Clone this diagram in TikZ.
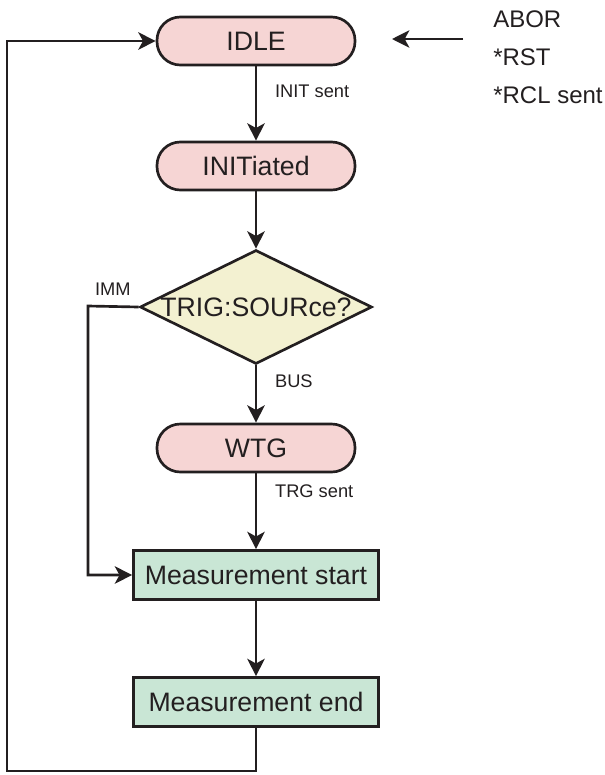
\documentclass[tikz,border=0pt]{standalone}
\usepackage{fontspec}
\setmainfont{Liberation Sans}
\usetikzlibrary{arrows.meta,shapes.geometric}
\definecolor{inkgray}{HTML}{231F20}
\definecolor{statepink}{HTML}{F6D5D4}
\definecolor{askyellow}{HTML}{F3F1D1}
\definecolor{stepgreen}{HTML}{C9E6D5}

\begin{document}
\begin{tikzpicture}[x=0.75pt,y=-0.75pt]
    \tikzset{every node/.style={text=inkgray}}
    \tikzset{state/.style = {draw=inkgray,fill=statepink,line width=2pt,rounded corners=17.5pt,
        minimum width=148.5pt,minimum height=36pt,inner sep=0pt,font=\fontsize{20}{24}\selectfont}}
    \tikzset{stepbox/.style = {draw=inkgray,fill=stepgreen,line width=2pt,
        minimum width=183.75pt,minimum height=36.75pt,inner sep=0pt,font=\fontsize{20}{24}\selectfont}}
    \tikzset{decision/.style = {shape=diamond,draw=inkgray,fill=askyellow,line width=2pt,
        minimum width=174pt,minimum height=85.5pt,inner sep=0pt}}
    \tikzset{cond/.style = {font=\fontsize{13.7}{16}\selectfont,anchor=base west}}
    \tikzset{cmdtxt/.style = {font=\fontsize{18}{22}\selectfont,anchor=base west,inner sep=0pt}}
    \tikzset{edge/.style = {draw=inkgray,line width=2pt,-{Stealth[length=13pt,width=13pt,inset=3.5pt]}}}
    \useasboundingbox (0,0) rectangle (605,775);
    % vertices
    \node[state] (idle) at (256,41) {IDLE};
    \node[state] (init) at (256,166) {INITiated};
    \node[decision] (src) at (256,307) {};
    \node[font=\fontsize{20}{24}\selectfont] (srctext) at (src) {TRIG:SOURce?};
    \node[state] (wtg) at (256,448) {WTG};
    \node[stepbox] (mstart) at (256,575) {Measurement start};
    \node[stepbox] (mend) at (256,702) {Measurement end};
    \node[cmdtxt] (abor) at (493,27) {ABOR};
    \node[cmdtxt] (rst) at (493,65) {*RST};
    \node[cmdtxt] (rcl) at (493,103) {*RCL sent};
    \coordinate (cmdstart) at (463,39);
    \coordinate (cmdend) at (392,39);
    \coordinate (immcorner) at (88,306);
    \coordinate (loopcorner) at (7,771);

    % edges
    \draw[edge] (idle) -- node[cond,pos=0.42,xshift=10pt] {INIT sent} (init);
    \draw[edge] (init) -- (src);
    \draw[edge] (src) -- node[cond,pos=0.38,xshift=10pt] {BUS} (wtg);
    \draw[edge] (wtg) -- node[cond,pos=0.32,xshift=10pt] {TRG sent} (mstart);
    \draw[edge] (mstart) -- (mend);
    \draw[edge] (src.west) -- (immcorner) node[cond,xshift=1pt,yshift=8pt] {IMM} |- (mstart);
    \draw[edge] (mend) |- (loopcorner) |- (idle);
    \draw[edge] (cmdstart) -- (cmdend);
\end{tikzpicture}
\end{document}
